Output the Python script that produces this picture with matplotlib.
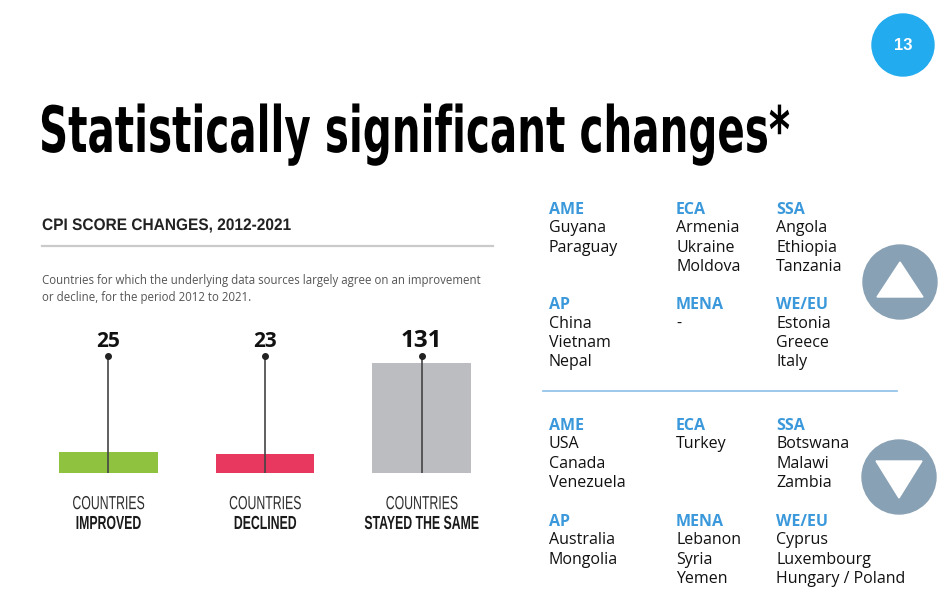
import matplotlib
matplotlib.use("Agg")
import matplotlib.pyplot as plt
from matplotlib.patches import Circle, Polygon
from matplotlib.patheffects import AbstractPathEffect
from matplotlib.transforms import Affine2D

# bar chart values
categories = ["IMPROVED", "DECLINED", "STAYED THE SAME"]
counts = [25, 23, 131]
bar_colors = ["#8fc23f", "#e9385f", "#bcbdc0"]

# regional breakdown (same region order for both panels)
regions = ["AME", "ECA", "SSA", "AP", "MENA", "WE/EU"]
improved = [
    ["Guyana", "Paraguay"],
    ["Armenia", "Ukraine", "Moldova"],
    ["Angola", "Ethiopia", "Tanzania"],
    ["China", "Vietnam", "Nepal"],
    ["-"],
    ["Estonia", "Greece", "Italy"],
]
declined = [
    ["USA", "Canada", "Venezuela"],
    ["Turkey"],
    ["Botswana", "Malawi", "Zambia"],
    ["Australia", "Mongolia"],
    ["Lebanon", "Syria", "Yemen"],
    ["Cyprus", "Luxembourg", "Hungary / Poland"],
]

title = "Statistically significant changes*"
subtitle = "CPI SCORE CHANGES, 2012-2021"
note = ["Countries for which the underlying data sources largely agree on an improvement",
        "or decline, for the period 2012 to 2021."]

BLUE = "#3b99db"
COND = ["Liberation Sans", "DejaVu Sans"]
OPEN = ["Open Sans", "DejaVu Sans"]


class Squeeze(AbstractPathEffect):
    """reshape glyphs (narrower / taller), a stand-in for a condensed font"""
    def __init__(self, sx, sy=1.0, anchor="left"):
        super().__init__()
        self.sx = sx
        self.sy = sy
        self.anchor = anchor

    def draw_path(self, renderer, gc, tpath, affine, rgbFace=None):
        cx = 0
        if self.anchor == "center":
            ext = tpath.get_extents()
            cx = (ext.x0 + ext.x1) / 2
        squeeze = Affine2D().translate(-cx, 0).scale(self.sx, self.sy).translate(cx, 0)
        renderer.draw_path(gc, tpath, squeeze + affine, rgbFace)


fig = plt.figure(figsize=(9.42, 6.08), dpi=100)
fig.patch.set_facecolor("white")

# full-slide layer in pixel units (y down)
bg = fig.add_axes([0, 0, 1, 1])
bg.set_xlim(0, 942)
bg.set_ylim(608, 0)
bg.axis("off")

title_size = 28
t_title = bg.text(39, 152, title, fontsize=title_size, fontweight="bold",
                  family=["DejaVu Sans"], va="baseline", color="black")

bg.add_patch(Circle((903, 45), 31, color="#22abee"))
bg.text(903, 46, "13", fontsize=12, fontweight="bold", family=COND,
        color="white", ha="center", va="center")

t_sub = bg.text(42, 230, subtitle, fontsize=12, fontweight="bold",
                family=COND, va="baseline", color="#222222")
bg.plot([42, 493], [246, 246], color="#cacaca", lw=1.6)
for k, line in enumerate(note):
    bg.text(42, 284 + 17 * k, line, fontsize=8.3, family=OPEN,
            va="baseline", color="#555555")

# region lists
col_x = [549, 676, 776]


def region_block(names, header_rows):
    for k, (region, countries) in enumerate(zip(regions, names)):
        x = col_x[k % 3]
        y0 = header_rows[k // 3]
        bg.text(x, y0, region, fontsize=11.5, fontweight="bold", color=BLUE,
                family=OPEN, va="baseline")
        for j, country in enumerate(countries):
            bg.text(x, y0 + 18.5 + 19.4 * j, country, fontsize=11.5, color="#111111",
                    family=OPEN, va="baseline")


region_block(improved, [214, 309])
region_block(declined, [430, 526])
bg.plot([543, 897], [391, 391], color="#8dbde8", lw=1.2)

bg.add_patch(Circle((900, 282), 37, color="#89a1b4"))
bg.add_patch(Polygon([(900, 262), (877, 297), (923, 297)], color="white"))
bg.add_patch(Circle((899, 477), 37, color="#89a1b4"))
bg.add_patch(Polygon([(876, 461), (922, 461), (899, 498)], color="white"))

# bar chart
ax = fig.add_axes([30 / 942, 135 / 608, 470 / 942, 134 / 608])
ax.patch.set_alpha(0)
x = list(range(len(counts)))
stem_top = 140
ax.bar(x, counts, width=0.63, color=bar_colors, zorder=1)
ax.vlines(x, 0, stem_top, color="#444444", lw=1.2, zorder=2)
ax.plot(x, [stem_top] * len(x), "o", ms=4, color="#222222", zorder=3)
ax.set_xlim(-0.5, 2.5)
ax.set_ylim(0, 160)
ax.axis("off")

value_sizes = [15, 15, 17.5]
for i, v in enumerate(counts):
    ax.annotate(str(v), (i, stem_top), xytext=(0, 6.5), textcoords="offset points",
                ha="center", va="baseline", fontsize=value_sizes[i], fontweight="bold",
                family=OPEN, color="#111111", annotation_clip=False)

cat_texts = []
for i, cat in enumerate(categories):
    t1 = ax.annotate("COUNTRIES", (i, 0), xytext=(0, -26), textcoords="offset points",
                     ha="center", va="baseline", fontsize=13.6, family=COND,
                     color="#2e2e2e", annotation_clip=False)
    t2 = ax.annotate(cat, (i, 0), xytext=(0, -40.3), textcoords="offset points",
                     ha="center", va="baseline", fontsize=13.6, fontweight="bold",
                     family=COND, color="#1a1a1a", annotation_clip=False)
    cat_texts += [t1, t2]

# narrow the display faces to the reference widths
fig.canvas.draw()
r = fig.canvas.get_renderer()
t_title.set_path_effects([Squeeze(749 / t_title.get_window_extent(r).width, 46 / title_size)])
t_sub.set_path_effects([Squeeze(248 / t_sub.get_window_extent(r).width)])
cond = 72 / cat_texts[0].get_window_extent(r).width
for t in cat_texts:
    t.set_path_effects([Squeeze(cond, anchor="center")])

fig.savefig("out.png", dpi=100)
